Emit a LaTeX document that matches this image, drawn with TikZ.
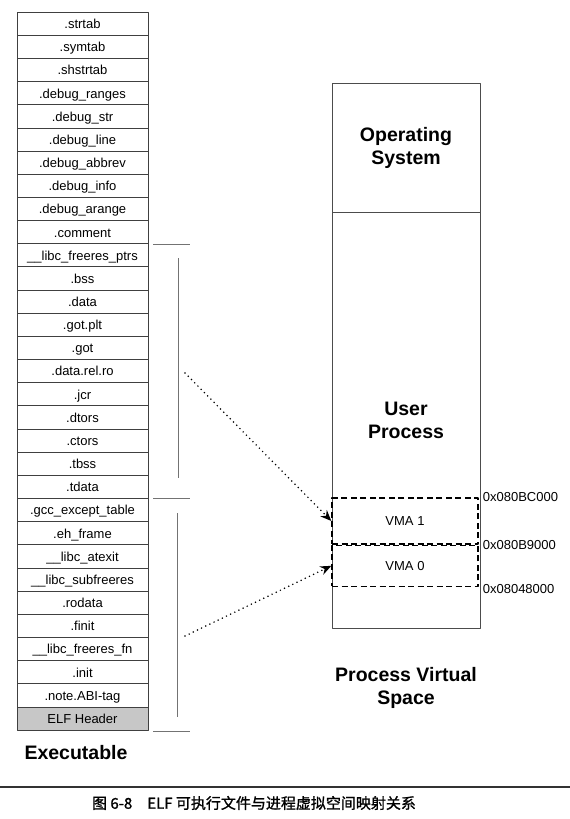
\documentclass[tikz,border=0pt]{standalone}
\usepackage{fontspec}
\setmainfont{Liberation Sans}
\newfontfamily\cjk[FakeBold=1.2]{Noto Sans CJK SC}
\usetikzlibrary{arrows.meta}
\begin{document}
\begin{tikzpicture}[x=1pt,y=-1pt,>={Stealth[length=11pt,width=9pt]}, line join=round,
	sec/.style={draw=black!75,line width=0.6pt,minimum width=131pt,minimum height=23.16pt,inner sep=0pt,text height=11pt,text depth=1pt,font=\fontsize{13}{15}\selectfont},
	area/.style={draw=black!70,line width=0.6pt,inner sep=0pt},
	vma/.style={draw,line width=1.3pt,dash pattern=on 6pt off 3.5pt,inner sep=0pt,font=\fontsize{13}{15}\selectfont},
	title/.style={font=\bfseries\fontsize{19.5}{23}\selectfont,align=center},
	addr/.style={anchor=west,inner sep=0pt,font=\fontsize{13}{15}\selectfont},
	seg/.style={draw=black!55,line width=0.6pt},
	map/.style={->,line width=1.7pt,dash pattern=on 0pt off 4.6pt,line cap=round}]
	\useasboundingbox (0,0) rectangle (570,819);
	% sections of the executable, top to bottom
	\foreach \sname [count=\i] in {.strtab,.symtab,.shstrtab,.debug\_ranges,.debug\_str,.debug\_line,.debug\_abbrev,.debug\_info,.debug\_arange,.comment,\_\_libc\_freeres\_ptrs,.bss,.data,.got.plt,.got,.data.rel.ro,.jcr,.dtors,.ctors,.tbss,.tdata,.gcc\_except\_table,.eh\_frame,\_\_libc\_atexit,\_\_libc\_subfreeres,.rodata,.finit,\_\_libc\_freeres\_fn,.init,.note.ABI-tag}
		\node[sec] (sec\i) at (82.5,{12+(\i-0.5)*23.16}) {\sname};
	\node[sec,fill=black!22,anchor=north] (sec31) at (sec30.south) {ELF Header};
	\node[title] (exe) at (76,753) {Executable};
	% segment brackets
	\draw[seg] ([xshift=5pt]sec10.south east) -- ++(37,0)
		([xshift=5pt]sec21.south east) -- ++(37,0)
		([xshift=5pt]sec31.south east) -- ++(37,0);
	\draw[seg] (178,258) -- (178,478) (177,513) -- (177,717);
	% process virtual space
	\node[area,title,minimum width=148pt,minimum height=129pt] (os) at (406,147.5) {Operating\\System};
	\node[area,minimum width=148pt,minimum height=416pt,anchor=north] (user) at (os.south) {};
	\node[title] (userlabel) at (406,420) {User\\Process};
	\node[vma,minimum width=146pt,minimum height=46pt] (vma1) at (405,521) {VMA 1};
	\node[vma,minimum width=146pt,minimum height=41pt,anchor=north] (vma0) at (vma1.south) {VMA 0};
	\node[addr] (addr1) at ([xshift=4pt]vma1.north east) {0x080BC000};
	\node[addr] (addr2) at ([xshift=4pt]vma0.north east) {0x080B9000};
	\node[addr] (addr3) at ([xshift=4pt,yshift=-2pt]vma0.south east) {0x08048000};
	\node[title] (pvs) at (406,688) {Process Virtual\\Space};
	% mapping
	\coordinate (datasrc) at (185,373);
	\coordinate (textsrc) at (185,636);
	\draw[map] (datasrc) -- (vma1.west);
	\draw[map] (textsrc) -- (vma0.west);
	% caption
	\draw[black!80,line width=1.3pt] (0,787) -- (570,787);
	\node (caption) at (254,803) {\cjk\fontsize{15}{17}\selectfont 图 6-8\quad ELF 可执行文件与进程虚拟空间映射关系};
\end{tikzpicture}
\end{document}
